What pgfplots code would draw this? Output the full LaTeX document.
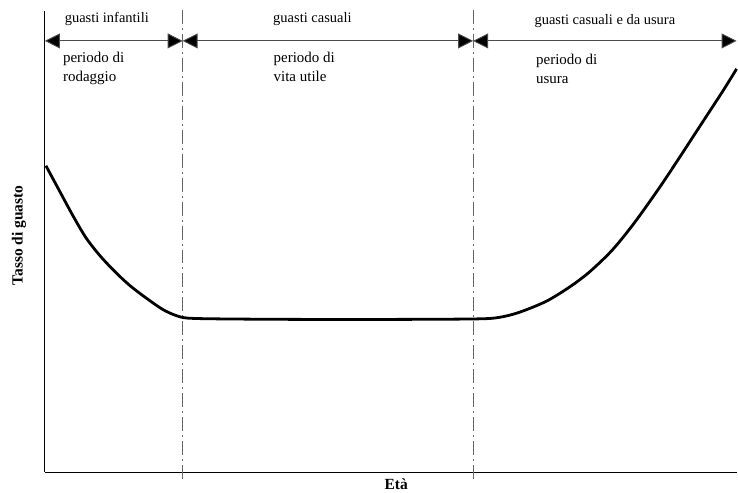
\documentclass[border=0pt]{standalone}
\usepackage{pgfplots}
\pgfplotsset{compat=1.18}
\usepackage{fontspec}
\setmainfont{Liberation Serif}
\usetikzlibrary{arrows.meta}
\begin{document}
\begin{tikzpicture}
\begin{axis}[
  x=1pt, y=1pt,
  xmin=45, xmax=738, ymin=19, ymax=481,
  axis lines=left,
  axis line style={-, line width=1.1pt, black},
  ticks=none,
  clip=false,
]
\path (axis cs:0,0) rectangle (axis cs:738,492);
% dash-dot separators
\draw[gray!80!black, line width=0.9pt, dash pattern=on 14pt off 4pt on 2pt off 4pt]
  (axis cs:183,482) -- (axis cs:183,10);
\draw[gray!80!black, line width=0.9pt, dash pattern=on 14pt off 4pt on 2pt off 4pt]
  (axis cs:474,482) -- (axis cs:474,10);
% arrows
\tikzset{arr/.style={line width=0.9pt, black!70, {Triangle[length=15pt,width=15pt,fill=black]}-{Triangle[length=15pt,width=15pt,fill=black]}}}
\draw[arr] (axis cs:45,451) -- (axis cs:183,451);
\draw[arr] (axis cs:183,451) -- (axis cs:474,451);
\draw[arr] (axis cs:474,451) -- (axis cs:738,451);
% labels
\node[font=\fontsize{14.5}{17}\selectfont] at (axis cs:107,473) {guasti infantili};
\node[font=\fontsize{14.5}{17}\selectfont] at (axis cs:313,473) {guasti casuali};
\node[font=\fontsize{14.5}{17}\selectfont] at (axis cs:606,471) {guasti casuali e da usura};
\node[font=\fontsize{15}{19}\selectfont, anchor=base west, inner sep=0pt] at (axis cs:63,429) {periodo di};
\node[font=\fontsize{15}{19}\selectfont, anchor=base west, inner sep=0pt] at (axis cs:63,410) {rodaggio};
\node[font=\fontsize{15}{19}\selectfont, anchor=base west, inner sep=0pt] at (axis cs:274,429) {periodo di};
\node[font=\fontsize{15}{19}\selectfont, anchor=base west, inner sep=0pt] at (axis cs:274,410) {vita utile};
\node[font=\fontsize{15}{19}\selectfont, anchor=base west, inner sep=0pt] at (axis cs:537,427) {periodo di};
\node[font=\fontsize{15}{19}\selectfont, anchor=base west, inner sep=0pt] at (axis cs:537,408) {usura};
\node[font=\fontsize{15.5}{18}\selectfont\bfseries, rotate=90] at (axis cs:19,256) {Tasso di guasto};
\node[font=\fontsize{15.5}{18}\selectfont\bfseries] at (axis cs:397,7) {Età};
% bathtub curve
\addplot[black, line width=2.8pt, smooth, tension=0.5] coordinates {
(46,326) (60,300) (73,276) (86,254) (100,236) (115,220) (130,206)
(147,193) (163,182) (176,176) (188,173.3) (220,172.5) (300,172)
(400,172) (478,172.5) (500,174) (520,179) (547,190) (570,204) (590,219)
(613,241) (635,268) (660,303) (680,333) (695,356) (710,379) (725,402) (738,423)
};
\end{axis}
\end{tikzpicture}
\end{document}
